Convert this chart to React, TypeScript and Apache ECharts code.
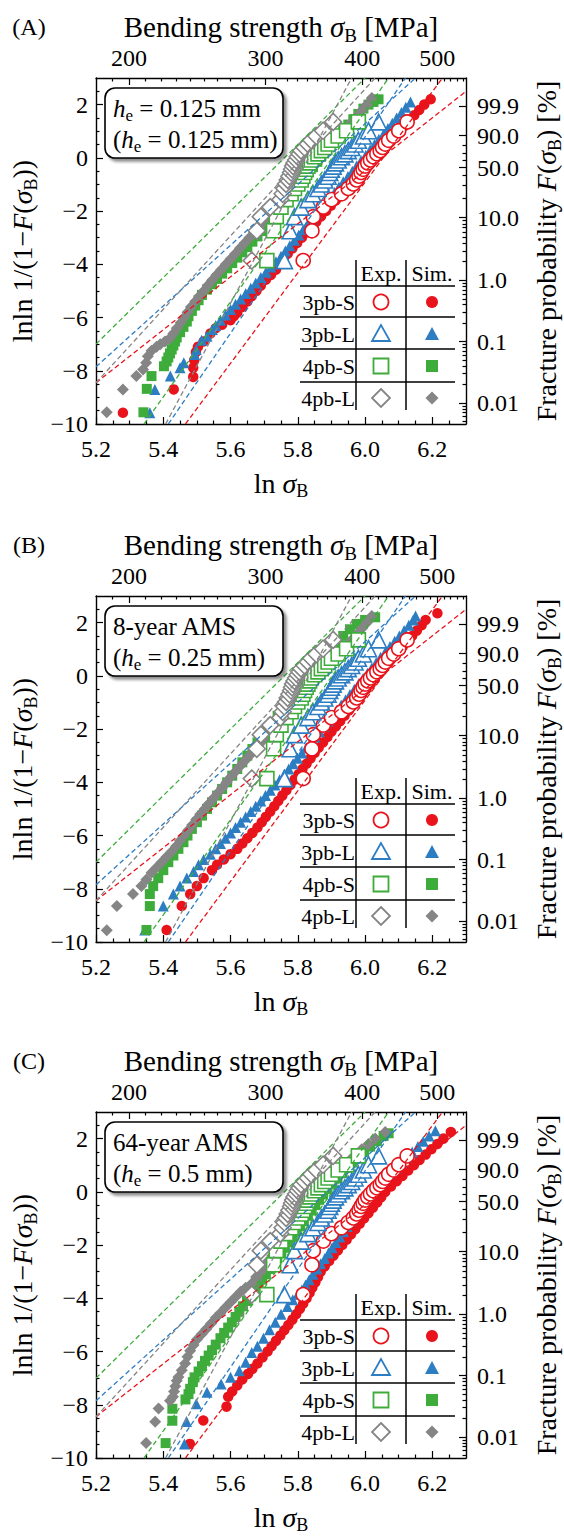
import React, { useEffect, useRef } from "react";
import * as echarts from "echarts";

const FONT = "'Liberation Serif', 'Times New Roman', 'DejaVu Serif', serif";
const C_RED = "#e8131b";
const C_BLUE = "#2d7dc3";
const C_GREEN = "#3dac3a";
const C_GRAY = "#858585";

// ---- axis tick data ----
const mpaMajor = [200, 300, 400, 500];
const mpaMinor = [190, 210, 220, 230, 240, 250, 260, 270, 280, 290, 310, 320, 330, 340, 350, 360, 370, 380, 390, 410, 420, 430, 440, 450, 460, 470, 480, 490, 510, 520, 530, 540];
const fracMajor = [99.9, 90, 50, 10, 1, 0.1, 0.01];
const fracMajorLabels = ["99.9", "90.0", "50.0", "10.0", "1.0", "0.1", "0.01"];
const fracMinor = [0.005, 0.006, 0.007, 0.008, 0.009, 0.02, 0.03, 0.04, 0.05, 0.06, 0.07, 0.08, 0.09, 0.2, 0.3, 0.4, 0.5, 0.6, 0.7, 0.8, 0.9, 2, 3, 4, 5, 6, 7, 8, 9, 20, 30, 40, 60, 70, 80];
const xMinor = [5.25, 5.3, 5.35, 5.45, 5.5, 5.55, 5.65, 5.7, 5.75, 5.85, 5.9, 5.95, 6.05, 6.1, 6.15, 6.25];
const yMinor = [-9.5, -9, -8.5, -7.5, -7, -6.5, -5.5, -5, -4.5, -3.5, -3, -2.5, -1.5, -1, -0.5, 0.5, 1, 1.5, 2.5];

// ---- experimental data (same in all panels) ----
const expRankY = [-3.86, -2.74, -2.21, -1.85, -1.57, -1.35, -1.15, -0.98, -0.83, -0.69, -0.55, -0.43, -0.31, -0.19, -0.08, 0.04, 0.15, 0.27, 0.39, 0.52, 0.66, 0.82, 1.02, 1.35];
const exp3pbS = [5.816, 5.842, 5.846, 5.876, 5.9, 5.93, 5.95, 5.965, 5.975, 5.982, 5.988, 5.994, 6.0, 6.008, 6.016, 6.025, 6.035, 6.045, 6.052, 6.06, 6.07, 6.085, 6.1, 6.125];
const exp3pbL = [5.76, 5.777, 5.79, 5.81, 5.83, 5.845, 5.86, 5.87, 5.88, 5.89, 5.895, 5.9, 5.905, 5.912, 5.92, 5.93, 5.94, 5.95, 5.96, 5.97, 5.98, 5.995, 6.01, 6.04];
const exp4pbS = [5.708, 5.728, 5.736, 5.75, 5.765, 5.78, 5.79, 5.8, 5.81, 5.815, 5.82, 5.825, 5.83, 5.835, 5.84, 5.85, 5.86, 5.87, 5.88, 5.89, 5.9, 5.92, 5.945, 5.98];
const exp4pbL = [5.663, 5.678, 5.69, 5.718, 5.748, 5.755, 5.76, 5.765, 5.77, 5.775, 5.78, 5.783, 5.786, 5.79, 5.795, 5.8, 5.805, 5.81, 5.82, 5.83, 5.84, 5.855, 5.875, 5.905];

// ---- dashed lines (endpoints) ----
const line3pbS = [[[5.2, -8.45], [6.3, 2.5]], [[5.466, -10], [6.23, 3]]];
const line3pbL = [[[5.2, -7.85], [6.15, 3]], [[5.415, -10], [6.12, 3]]];
const line4pbS = [[[5.2, -7.0], [6.0, 3]], [[5.343, -10], [6.07, 3]]];
const line4pbL = [[[5.2, -8.45], [6.03, 3]], [[5.407, -10], [5.96, 3]]];

// ---- simulation data, panel A ----
const simA_3pbS = [[5.28, -9.58], [5.431, -8.7], [5.489, -8.23], [5.489, -7.89], [5.492, -7.6], [5.497, -7.3], [5.503, -7.1], [5.52, -6.9], [5.54, -6.6], [5.556, -6.4], [5.575, -6.27], [5.6, -6.1], [5.61, -5.95], [5.62, -5.82], [5.635, -5.6], [5.65, -5.4], [5.663, -5.2], [5.677, -5.0], [5.69, -4.8], [5.705, -4.58], [5.72, -4.4], [5.735, -4.2], [5.748, -4.0], [5.758, -3.8], [5.77, -3.6], [5.784, -3.4], [5.798, -3.2], [5.812, -3.0], [5.826, -2.8], [5.84, -2.6], [5.855, -2.4], [5.869, -2.2], [5.884, -2.0], [5.898, -1.8], [5.913, -1.6], [5.928, -1.4], [5.942, -1.2], [5.957, -1.0], [5.971, -0.8], [5.986, -0.6], [6.0, -0.4], [6.015, -0.2], [6.03, 0.0], [6.044, 0.2], [6.059, 0.4], [6.073, 0.6], [6.088, 0.8], [6.103, 1.0], [6.117, 1.2], [6.132, 1.4], [6.146, 1.6], [6.161, 1.8], [6.176, 2.0], [6.195, 2.2]];
const simA_3pbL = [[5.36, -9.58], [5.375, -8.7], [5.421, -8.2], [5.45, -7.89], [5.461, -7.7], [5.493, -7.39], [5.498, -7.2], [5.514, -6.85], [5.53, -6.7], [5.546, -6.45], [5.556, -6.3], [5.57, -6.1], [5.585, -5.9], [5.6, -5.7], [5.615, -5.5], [5.63, -5.3], [5.645, -5.1], [5.66, -4.9], [5.675, -4.7], [5.69, -4.5], [5.705, -4.3], [5.72, -4.1], [5.735, -3.9], [5.75, -3.7], [5.763, -3.5], [5.776, -3.3], [5.79, -3.1], [5.803, -2.9], [5.816, -2.7], [5.829, -2.5], [5.843, -2.3], [5.856, -2.1], [5.869, -1.9], [5.882, -1.7], [5.896, -1.5], [5.909, -1.3], [5.922, -1.1], [5.935, -0.9], [5.949, -0.7], [5.962, -0.5], [5.975, -0.3], [5.988, -0.1], [6.002, 0.1], [6.015, 0.3], [6.028, 0.5], [6.041, 0.7], [6.055, 0.9], [6.068, 1.1], [6.081, 1.3], [6.094, 1.5], [6.108, 1.7], [6.121, 1.9], [6.135, 2.1]];
const simA_4pbS = [[5.341, -9.56], [5.351, -8.68], [5.365, -8.2], [5.402, -7.83], [5.41, -7.65], [5.415, -7.5], [5.42, -7.35], [5.425, -7.2], [5.43, -7.05], [5.435, -6.9], [5.44, -6.75], [5.45, -6.55], [5.46, -6.35], [5.47, -6.15], [5.475, -5.95], [5.485, -5.75], [5.495, -5.55], [5.505, -5.35], [5.515, -5.15], [5.53, -4.95], [5.545, -4.75], [5.56, -4.55], [5.575, -4.35], [5.59, -4.15], [5.605, -3.95], [5.62, -3.75], [5.635, -3.55], [5.65, -3.35], [5.665, -3.15], [5.68, -2.95], [5.695, -2.75], [5.708, -2.55], [5.72, -2.35], [5.733, -2.15], [5.745, -1.95], [5.758, -1.75], [5.77, -1.55], [5.783, -1.35], [5.795, -1.15], [5.808, -0.95], [5.82, -0.75], [5.833, -0.55], [5.845, -0.35], [5.858, -0.15], [5.87, 0.05], [5.883, 0.25], [5.895, 0.45], [5.908, 0.65], [5.92, 0.85], [5.935, 1.05], [5.95, 1.25], [5.965, 1.45], [5.98, 1.65], [5.995, 1.85], [6.01, 2.0], [6.025, 2.1], [6.04, 2.2]];
const simA_4pbL = [[5.232, -9.56], [5.28, -8.7], [5.32, -8.2], [5.34, -7.95], [5.349, -7.7], [5.354, -7.45], [5.365, -7.25], [5.38, -7.1], [5.391, -7.0], [5.405, -6.9], [5.418, -6.8], [5.43, -6.6], [5.44, -6.4], [5.452, -6.2], [5.462, -6.0], [5.472, -5.8], [5.482, -5.6], [5.495, -5.4], [5.507, -5.2], [5.52, -5.0], [5.532, -4.8], [5.545, -4.6], [5.558, -4.4], [5.572, -4.2], [5.586, -4.0], [5.6, -3.8], [5.614, -3.6], [5.628, -3.4], [5.642, -3.2], [5.656, -3.0], [5.67, -2.8], [5.684, -2.6], [5.698, -2.4], [5.712, -2.2], [5.726, -2.0], [5.74, -1.8], [5.754, -1.6], [5.768, -1.4], [5.782, -1.2], [5.796, -1.0], [5.81, -0.8], [5.824, -0.6], [5.838, -0.4], [5.852, -0.2], [5.866, 0.0], [5.88, 0.2], [5.894, 0.4], [5.908, 0.6], [5.922, 0.8], [5.936, 1.0], [5.95, 1.2], [5.964, 1.4], [5.978, 1.6], [5.992, 1.8], [6.006, 2.0], [6.02, 2.25]];

// ---- simulation data, panel B ----
const simB_3pbS = [[5.41, -9.55], [5.455, -8.65], [5.48, -8.2], [5.5, -7.9], [5.52, -7.6], [5.545, -7.3], [5.56, -7.1], [5.58, -6.9], [5.6, -6.7], [5.62, -6.5], [5.635, -6.3], [5.65, -6.1], [5.665, -5.9], [5.68, -5.7], [5.693, -5.5], [5.705, -5.3], [5.718, -5.1], [5.73, -4.9], [5.742, -4.7], [5.754, -4.5], [5.766, -4.3], [5.778, -4.1], [5.79, -3.9], [5.802, -3.7], [5.814, -3.5], [5.826, -3.3], [5.838, -3.1], [5.85, -2.9], [5.862, -2.7], [5.875, -2.5], [5.888, -2.3], [5.9, -2.1], [5.913, -1.9], [5.926, -1.7], [5.939, -1.5], [5.952, -1.3], [5.965, -1.1], [5.978, -0.9], [5.991, -0.7], [6.004, -0.5], [6.017, -0.3], [6.03, -0.1], [6.043, 0.1], [6.056, 0.3], [6.07, 0.5], [6.084, 0.7], [6.098, 0.9], [6.112, 1.1], [6.126, 1.3], [6.14, 1.5], [6.154, 1.7], [6.168, 1.9], [6.18, 2.1], [6.215, 2.35]];
const simB_3pbL = [[5.345, -9.55], [5.4, -8.65], [5.43, -8.2], [5.45, -7.9], [5.47, -7.6], [5.49, -7.35], [5.505, -7.1], [5.52, -6.9], [5.54, -6.7], [5.556, -6.5], [5.57, -6.3], [5.585, -6.1], [5.6, -5.9], [5.615, -5.7], [5.63, -5.5], [5.645, -5.3], [5.66, -5.1], [5.675, -4.9], [5.69, -4.7], [5.704, -4.5], [5.718, -4.3], [5.732, -4.1], [5.746, -3.9], [5.76, -3.7], [5.773, -3.5], [5.786, -3.3], [5.799, -3.1], [5.812, -2.9], [5.825, -2.7], [5.838, -2.5], [5.851, -2.3], [5.864, -2.1], [5.877, -1.9], [5.89, -1.7], [5.903, -1.5], [5.916, -1.3], [5.929, -1.1], [5.942, -0.9], [5.955, -0.7], [5.968, -0.5], [5.981, -0.3], [5.994, -0.1], [6.007, 0.1], [6.02, 0.3], [6.033, 0.5], [6.046, 0.7], [6.06, 0.9], [6.074, 1.1], [6.088, 1.3], [6.102, 1.5], [6.116, 1.7], [6.13, 1.9], [6.143, 2.1], [6.15, 2.25]];
const simB_4pbS = [[5.35, -9.55], [5.36, -8.65], [5.36, -8.2], [5.37, -7.9], [5.385, -7.6], [5.4, -7.3], [5.415, -7.0], [5.43, -6.75], [5.445, -6.5], [5.46, -6.25], [5.472, -6.0], [5.485, -5.75], [5.5, -5.5], [5.515, -5.25], [5.53, -5.0], [5.545, -4.75], [5.56, -4.5], [5.575, -4.25], [5.59, -4.0], [5.605, -3.75], [5.62, -3.5], [5.635, -3.25], [5.65, -3.0], [5.665, -2.75], [5.68, -2.5], [5.695, -2.25], [5.71, -2.0], [5.725, -1.75], [5.74, -1.5], [5.755, -1.25], [5.77, -1.0], [5.785, -0.75], [5.8, -0.5], [5.815, -0.25], [5.83, 0.0], [5.847, 0.25], [5.864, 0.5], [5.881, 0.75], [5.898, 1.0], [5.916, 1.25], [5.935, 1.5], [5.955, 1.75], [5.975, 1.95], [6.0, 2.1], [6.03, 2.2]];
const simB_4pbL = [[5.232, -9.56], [5.262, -8.65], [5.31, -8.2], [5.335, -7.9], [5.35, -7.65], [5.365, -7.4], [5.38, -7.2], [5.395, -7.0], [5.41, -6.8], [5.425, -6.6], [5.438, -6.4], [5.45, -6.2], [5.462, -6.0], [5.474, -5.8], [5.486, -5.6], [5.498, -5.4], [5.51, -5.2], [5.523, -5.0], [5.536, -4.8], [5.549, -4.6], [5.562, -4.4], [5.575, -4.2], [5.588, -4.0], [5.601, -3.8], [5.614, -3.6], [5.628, -3.4], [5.642, -3.2], [5.656, -3.0], [5.67, -2.8], [5.684, -2.6], [5.698, -2.4], [5.712, -2.2], [5.726, -2.0], [5.74, -1.8], [5.754, -1.6], [5.768, -1.4], [5.782, -1.2], [5.796, -1.0], [5.81, -0.8], [5.824, -0.6], [5.838, -0.4], [5.852, -0.2], [5.866, 0.0], [5.88, 0.2], [5.894, 0.4], [5.908, 0.6], [5.922, 0.8], [5.936, 1.0], [5.95, 1.2], [5.964, 1.4], [5.978, 1.6], [5.992, 1.8], [6.006, 2.0], [6.02, 2.25]];

// ---- simulation data, panel C ----
const simC_3pbS = [[5.479, -9.47], [5.519, -8.59], [5.588, -8.07], [5.593, -7.7], [5.605, -7.5], [5.62, -7.27], [5.635, -7.05], [5.652, -6.84], [5.665, -6.65], [5.68, -6.45], [5.695, -6.22], [5.71, -6.0], [5.722, -5.8], [5.735, -5.6], [5.748, -5.4], [5.76, -5.2], [5.772, -5.0], [5.784, -4.8], [5.795, -4.6], [5.806, -4.4], [5.816, -4.2], [5.826, -4.0], [5.835, -3.8], [5.843, -3.6], [5.852, -3.4], [5.86, -3.2], [5.868, -3.0], [5.88, -2.8], [5.893, -2.6], [5.906, -2.4], [5.919, -2.2], [5.932, -2.0], [5.945, -1.8], [5.958, -1.6], [5.971, -1.4], [5.984, -1.2], [5.997, -1.0], [6.01, -0.8], [6.023, -0.6], [6.036, -0.4], [6.048, -0.2], [6.06, 0.0], [6.077, 0.2], [6.094, 0.4], [6.111, 0.6], [6.128, 0.8], [6.145, 1.0], [6.162, 1.2], [6.18, 1.4], [6.197, 1.6], [6.215, 1.8], [6.233, 2.0], [6.255, 2.25]];
const simC_3pbL = [[5.463, -9.47], [5.469, -8.63], [5.498, -7.96], [5.53, -7.53], [5.572, -7.22], [5.6, -6.97], [5.626, -6.72], [5.645, -6.4], [5.663, -6.04], [5.68, -5.8], [5.698, -5.5], [5.716, -5.18], [5.733, -4.9], [5.75, -4.6], [5.769, -4.31], [5.785, -4.05], [5.8, -3.85], [5.812, -3.69], [5.823, -3.5], [5.834, -3.3], [5.845, -3.1], [5.857, -2.9], [5.868, -2.7], [5.88, -2.5], [5.891, -2.3], [5.902, -2.1], [5.913, -1.9], [5.925, -1.7], [5.936, -1.5], [5.947, -1.3], [5.958, -1.1], [5.97, -0.9], [5.981, -0.7], [5.992, -0.5], [6.003, -0.3], [6.014, -0.1], [6.028, 0.1], [6.044, 0.3], [6.06, 0.5], [6.076, 0.7], [6.092, 0.9], [6.108, 1.1], [6.124, 1.3], [6.14, 1.5], [6.157, 1.7], [6.173, 1.9], [6.19, 2.1], [6.209, 2.3]];
const simC_4pbS = [[5.407, -9.44], [5.427, -8.6], [5.427, -8.15], [5.466, -7.8], [5.475, -7.6], [5.48, -7.4], [5.488, -7.15], [5.493, -6.97], [5.505, -6.75], [5.515, -6.55], [5.524, -6.35], [5.535, -6.15], [5.545, -5.95], [5.556, -5.74], [5.57, -5.5], [5.581, -5.3], [5.593, -5.1], [5.604, -4.9], [5.615, -4.7], [5.626, -4.5], [5.637, -4.3], [5.649, -4.1], [5.66, -3.9], [5.671, -3.7], [5.683, -3.5], [5.694, -3.3], [5.705, -3.1], [5.717, -2.9], [5.728, -2.7], [5.739, -2.5], [5.751, -2.3], [5.762, -2.1], [5.773, -1.9], [5.785, -1.7], [5.796, -1.5], [5.807, -1.3], [5.818, -1.1], [5.83, -0.9], [5.841, -0.7], [5.852, -0.5], [5.863, -0.3], [5.875, -0.1], [5.888, 0.1], [5.903, 0.3], [5.918, 0.5], [5.933, 0.7], [5.948, 0.9], [5.963, 1.1], [5.98, 1.3], [5.997, 1.5], [6.015, 1.7], [6.035, 1.9], [6.055, 2.1], [6.07, 2.2]];
const simC_4pbL = [[5.349, -9.44], [5.376, -8.64], [5.386, -8.14], [5.42, -7.85], [5.429, -7.7], [5.432, -7.5], [5.436, -7.3], [5.44, -7.1], [5.445, -6.96], [5.455, -6.7], [5.465, -6.45], [5.472, -6.2], [5.48, -5.97], [5.49, -5.75], [5.5, -5.55], [5.514, -5.35], [5.528, -5.15], [5.542, -4.95], [5.556, -4.73], [5.57, -4.55], [5.585, -4.35], [5.6, -4.15], [5.615, -3.95], [5.63, -3.75], [5.645, -3.6], [5.663, -3.44], [5.676, -3.2], [5.688, -3.0], [5.7, -2.8], [5.712, -2.6], [5.724, -2.4], [5.736, -2.2], [5.748, -2.0], [5.76, -1.8], [5.772, -1.6], [5.784, -1.4], [5.796, -1.2], [5.808, -1.0], [5.82, -0.8], [5.831, -0.6], [5.842, -0.4], [5.853, -0.2], [5.864, 0.0], [5.878, 0.2], [5.893, 0.4], [5.908, 0.6], [5.923, 0.8], [5.938, 1.0], [5.955, 1.2], [5.972, 1.4], [5.99, 1.6], [6.01, 1.8], [6.03, 2.0], [6.06, 2.25]];

const groupNames = ["3pb-S", "3pb-L", "4pb-S", "4pb-L"];
const groupColors = [C_RED, C_BLUE, C_GREEN, C_GRAY];
const expSymbols = ["circle", "triangle", "rect", "diamond"];
const expSizes = [14, 16, 14, 17];
const simSizes = [10.5, 11, 10, 12];
const expData = [exp3pbS, exp3pbL, exp4pbS, exp4pbL];
const lineData = [line3pbS, line3pbL, line4pbS, line4pbL];

const panelTags = ["(A)", "(B)", "(C)"];
const panelLine1 = ["{i|h}{sub|e} = 0.125 mm", "8-year AMS", "64-year AMS"];
const panelLine2 = ["({i|h}{sub|e} = 0.125 mm)", "({i|h}{sub|e} = 0.25 mm)", "({i|h}{sub|e} = 0.5 mm)"];
const panelSims = [
  [simA_3pbS, simA_3pbL, simA_4pbS, simA_4pbL],
  [simB_3pbS, simB_3pbL, simB_4pbS, simB_4pbL],
  [simC_3pbS, simC_3pbL, simC_4pbS, simC_4pbL],
];

const GRID_LEFT = 96;
const GRID_W = 370;
const GRID_H = 346;
const PANEL_TOPS = [78, 596, 1112];
const NAME_SIZE = 28;
const TITLE_SIZE = 29;
const TICK_SIZE = 24;

const toW = (p: number) => Math.log(-Math.log(1 - p / 100));

function richStyles(size: number) {
  return {
    i: { fontStyle: "italic", fontSize: size, fontFamily: FONT, fill: "#000", color: "#000", lineHeight: size + 6 },
    sub: { fontSize: Math.round(size * 0.66), fontFamily: FONT, fill: "#000", color: "#000", lineHeight: Math.round(size * 0.5), verticalAlign: "bottom" },
  };
}

function buildOption() {
  const fracPos = fracMajor.map(toW);
  const fracMinorPos = fracMinor.map(toW);
  const mpaPos = mpaMajor.map((v) => Math.log(v));
  const mpaMinorPos = mpaMinor.map((v) => Math.log(v));
  const tickFont = { fontSize: TICK_SIZE, fontFamily: FONT, color: "#000" };
  const nameStyle = { fontSize: NAME_SIZE, fontFamily: FONT, color: "#000", lineHeight: NAME_SIZE + 6, rich: richStyles(NAME_SIZE) };
  const lineStyleAx = { color: "#000", width: 1.4 };
  const tickLine = { color: "#000", width: 1.2 };

  const grid: any[] = [];
  const xAxis: any[] = [];
  const yAxis: any[] = [];
  const series: any[] = [];
  const graphic: any[] = [];

  PANEL_TOPS.forEach((T, p) => {
    grid.push({ left: GRID_LEFT, top: T, width: GRID_W, height: GRID_H, containLabel: false, outerBoundsMode: "none" });
    xAxis.push({
      gridIndex: p, type: "value", position: "bottom", min: 5.2, max: 6.3, interval: 0.2,
      axisLine: { show: true, onZero: false, lineStyle: lineStyleAx },
      axisTick: { inside: true, length: 7, lineStyle: tickLine },
      axisLabel: { ...tickFont, margin: 13, showMaxLabel: false, formatter: (v: number) => v.toFixed(1) },
      splitLine: { show: false },
      name: "ln {i|σ}{sub|B}", nameLocation: "middle", nameGap: 42, nameTextStyle: nameStyle,
    });
    xAxis.push({
      gridIndex: p, type: "value", position: "bottom", min: 5.2, max: 6.3,
      axisLine: { show: false, onZero: false },
      axisTick: { inside: true, length: 3.5, lineStyle: tickLine, customValues: xMinor },
      axisLabel: { show: false }, splitLine: { show: false },
    });
    xAxis.push({
      gridIndex: p, type: "value", position: "top", min: 5.2, max: 6.3,
      axisLine: { show: true, onZero: false, lineStyle: lineStyleAx },
      axisTick: { inside: true, length: 7, lineStyle: tickLine, customValues: mpaPos },
      axisLabel: { ...tickFont, margin: 8, customValues: mpaPos, formatter: (v: number) => String(Math.round(Math.exp(v))) },
      splitLine: { show: false },
    });
    xAxis.push({
      gridIndex: p, type: "value", position: "top", min: 5.2, max: 6.3,
      axisLine: { show: false, onZero: false },
      axisTick: { inside: true, length: 3.5, lineStyle: tickLine, customValues: mpaMinorPos },
      axisLabel: { show: false }, splitLine: { show: false },
    });
    yAxis.push({
      gridIndex: p, type: "value", position: "left", min: -10, max: 3, interval: 2,
      axisLine: { show: true, onZero: false, lineStyle: lineStyleAx },
      axisTick: { inside: true, length: 7, lineStyle: tickLine },
      axisLabel: { ...tickFont, margin: 8, showMaxLabel: false, formatter: (v: number) => (v < 0 ? "\u2212" + Math.abs(v) : String(v)) },
      splitLine: { show: false },
      name: "lnln 1/(1\u2212{i|F}({i|σ}{sub|B}))", nameLocation: "middle", nameGap: 54, nameRotate: 90, nameTextStyle: nameStyle,
    });
    yAxis.push({
      gridIndex: p, type: "value", position: "left", min: -10, max: 3,
      axisLine: { show: false, onZero: false },
      axisTick: { inside: true, length: 3.5, lineStyle: tickLine, customValues: yMinor },
      axisLabel: { show: false }, splitLine: { show: false },
    });
    yAxis.push({
      gridIndex: p, type: "value", position: "right", min: -10, max: 3,
      axisLine: { show: true, onZero: false, lineStyle: lineStyleAx },
      axisTick: { inside: true, length: 7, lineStyle: tickLine, customValues: fracPos },
      axisLabel: {
        ...tickFont, margin: 11, customValues: fracPos,
        formatter: (v: number) => {
          let best = 0;
          fracPos.forEach((q, i) => { if (Math.abs(q - v) < Math.abs(fracPos[best] - v)) best = i; });
          return fracMajorLabels[best];
        },
      },
      splitLine: { show: false },
      name: "Fracture probability {i|F}({i|σ}{sub|B}) [%]", nameLocation: "middle", nameGap: 62, nameRotate: 90, nameTextStyle: nameStyle,
    });
    yAxis.push({
      gridIndex: p, type: "value", position: "right", min: -10, max: 3,
      axisLine: { show: false, onZero: false },
      axisTick: { inside: true, length: 3.5, lineStyle: tickLine, customValues: fracMinorPos },
      axisLabel: { show: false }, splitLine: { show: false },
    });

    const xi = p * 4;
    const yi = p * 4;
    panelSims[p].forEach((d, g) => {
      series.push({
        type: "scatter", xAxisIndex: xi, yAxisIndex: yi, data: d, symbol: expSymbols[g], symbolSize: simSizes[g],
        itemStyle: { color: groupColors[g], opacity: 1 }, z: 2, silent: true,
      });
    });
    expData.forEach((xs, g) => {
      series.push({
        type: "scatter", xAxisIndex: xi, yAxisIndex: yi, data: xs.map((x, i) => [x, expRankY[i]]),
        symbol: expSymbols[g], symbolSize: expSizes[g],
        itemStyle: { color: "#ffffff", borderColor: groupColors[g], borderWidth: 1.6, opacity: 1 }, z: 4, silent: true,
      });
    });
    lineData.forEach((pair, g) => {
      pair.forEach((seg) => {
        series.push({
          type: "line", xAxisIndex: xi, yAxisIndex: yi, data: seg, symbol: "none", clip: true, silent: true,
          lineStyle: { color: groupColors[g], width: 1.3, type: [5, 3] }, z: 5,
        });
      });
    });

    graphic.push({ type: "text", x: 29, y: T - 51, z: 10, style: { text: panelTags[p], fontSize: 24, fontFamily: FONT, fill: "#000", align: "center", verticalAlign: "middle" } });
    graphic.push({
      type: "text", x: GRID_LEFT + GRID_W / 2, y: T - 51, z: 10,
      style: { text: "Bending strength {i|σ}{sub|B} [MPa]", fontSize: TITLE_SIZE, lineHeight: TITLE_SIZE + 6, fontFamily: FONT, fill: "#000", align: "center", verticalAlign: "middle", rich: richStyles(TITLE_SIZE) },
    });
    graphic.push({
      type: "rect", z: 10, shape: { x: 105, y: T + 10, width: 178, height: 70, r: 10 },
      style: { fill: "#fff", stroke: "#000", lineWidth: 1.6, shadowBlur: 3, shadowOffsetX: 3, shadowOffsetY: 3, shadowColor: "rgba(0,0,0,0.45)" },
    });
    graphic.push({ type: "text", x: 113, y: T + 30, z: 11, style: { text: panelLine1[p], fontSize: 25, lineHeight: 31, fontFamily: FONT, fill: "#000", align: "left", verticalAlign: "middle", rich: richStyles(25) } });
    graphic.push({ type: "text", x: 113, y: T + 61, z: 11, style: { text: panelLine2[p], fontSize: 25, lineHeight: 31, fontFamily: FONT, fill: "#000", align: "left", verticalAlign: "middle", rich: richStyles(25) } });

    const ln = (x1: number, y1: number, x2: number, y2: number) => ({ type: "line", z: 10, shape: { x1, y1, x2, y2 }, style: { stroke: "#000", lineWidth: 1.5 } });
    graphic.push(ln(356, T + 182, 356, T + 332));
    graphic.push(ln(406, T + 182, 406, T + 332));
    [208, 239, 271, 304].forEach((o) => graphic.push(ln(300, T + o, 455, T + o)));
    const tstyle = (text: string, x: number, y: number, align: string) => ({ type: "text", x, y, z: 11, style: { text, fontSize: 22, fontFamily: FONT, fill: "#000", align, verticalAlign: "middle" } });
    graphic.push(tstyle("Exp.", 381, T + 195, "center"));
    graphic.push(tstyle("Sim.", 432, T + 195, "center"));
    const rowsY = [224, 256, 288, 320];
    rowsY.forEach((o, g) => {
      const cy = T + o;
      graphic.push(tstyle(groupNames[g], 355, cy, "right"));
      const col = groupColors[g];
      const open = { fill: "#fff", stroke: col, lineWidth: 1.8 };
      const fill = { fill: col };
      const ex = 381, sx = 432;
      if (g === 0) {
        graphic.push({ type: "circle", z: 11, shape: { cx: ex, cy, r: 7.5 }, style: open });
        graphic.push({ type: "circle", z: 11, shape: { cx: sx, cy, r: 6 }, style: fill });
      } else if (g === 1) {
        graphic.push({ type: "polygon", z: 11, shape: { points: [[ex, cy - 9], [ex - 9, cy + 7], [ex + 9, cy + 7]] }, style: open });
        graphic.push({ type: "polygon", z: 11, shape: { points: [[sx, cy - 7], [sx - 7, cy + 6], [sx + 7, cy + 6]] }, style: fill });
      } else if (g === 2) {
        graphic.push({ type: "rect", z: 11, shape: { x: ex - 7.5, y: cy - 7.5, width: 15, height: 15 }, style: open });
        graphic.push({ type: "rect", z: 11, shape: { x: sx - 6, y: cy - 6, width: 12, height: 12 }, style: fill });
      } else {
        graphic.push({ type: "polygon", z: 11, shape: { points: [[ex, cy - 9], [ex + 9, cy], [ex, cy + 9], [ex - 9, cy]] }, style: open });
        graphic.push({ type: "polygon", z: 11, shape: { points: [[sx, cy - 6.5], [sx + 6.5, cy], [sx, cy + 6.5], [sx - 6.5, cy]] }, style: fill });
      }
    });
  });

  return { animation: false, backgroundColor: "#fff", grid, xAxis, yAxis, series, graphic };
}

export default function App() {
  const ref = useRef<HTMLDivElement>(null);
  useEffect(() => {
    document.body.style.margin = "0";
    const chart = echarts.init(ref.current as HTMLDivElement, null, { renderer: "svg" });
    chart.setOption(buildOption() as any);
    return () => chart.dispose();
  }, []);
  return <div ref={ref} style={{ width: 564, height: 1539 }} />;
}
